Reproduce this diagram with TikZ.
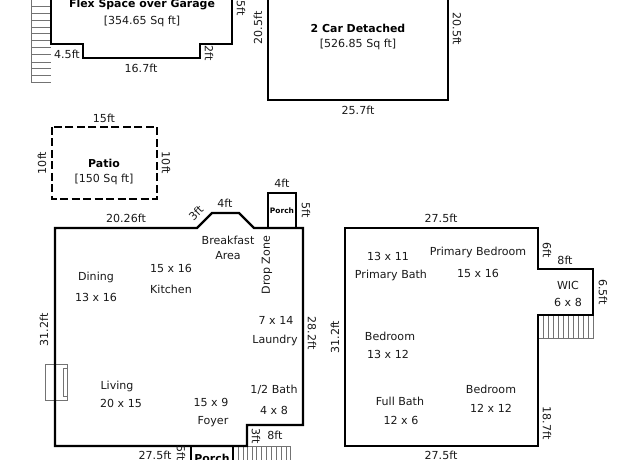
\documentclass[tikz,border=0pt]{standalone}
\usepackage{fontspec}
\setmainfont{DejaVu Sans}
\usetikzlibrary{positioning}
\tikzset{>=latex}
\tikzset{
  wall/.style={draw=black,line width=1.8pt,line join=miter},
  stairline/.style={draw=black!55,line width=0.55pt},
  room/.style={font=\fontsize{8.3}{10}\selectfont,text=black!90,inner sep=0pt},
  dimen/.style={font=\fontsize{8.3}{10}\selectfont,text=black!90,inner sep=0pt},
  title/.style={font=\fontsize{8.2}{10}\selectfont\bfseries,inner sep=0pt},
  porchlabel/.style={font=\fontsize{5.6}{7}\selectfont\bfseries,inner sep=0pt},
}
\begin{document}
\begin{tikzpicture}[x=0.75pt,y=-0.75pt]
  \useasboundingbox (0,0) rectangle (640,460);
  \begin{scope}
    \clip (0,0) rectangle (640,460);
    % stairs
    \draw [stairline] (31,-5) -- (31,82) -- (51,82);
    \foreach \y in {6,13,20,27,33,40,47,54,62,68,75} \draw [stairline] (31,\y) -- (51,\y);
    \foreach \x in {238,243,247,252,256,261,266,271,276,281,286} \draw [stairline] (\x,446) -- (\x,465);
    \draw [stairline] (233,446) -- (290,446) -- (290,465);
    \foreach \x in {543,548,553,558,563,568,573,578,583,588} \draw [stairline] (\x,315) -- (\x,338);
    \draw [stairline] (538,338) -- (593,338) -- (593,315);
    % fireplace
    \draw [stairline,line width=0.7pt] (45,364) rectangle (67,400);
    \draw [stairline,line width=0.7pt] (67,368) -- (63,368) -- (63,396) -- (67,396);
    % flex space
    \draw [wall] (51,-5) -- (51,44) -- (83,44) -- (83,58) -- (200,58) -- (200,44) -- (232,44) -- (232,-5);
    % garage
    \draw [wall] (268,-5) -- (268,100) -- (448,100) -- (448,-5);
    % patio
    \draw [wall,dashed,dash pattern=on 6pt off 2.6pt] (52,127) rectangle (157,199);
    % main house
    \draw [wall] (55,228) -- (197,228) -- (212,213) -- (239,213) -- (254,228) -- (303,228) -- (303,425) -- (247,425) -- (247,446) -- (55,446) -- cycle;
    \draw [wall] (268,228) -- (268,193) -- (296,193) -- (296,228);
    \draw [wall] (191,465) -- (191,446) -- (233,446) -- (233,465);
    % second house
    \draw [wall] (345,228) -- (538,228) -- (538,269) -- (593,269) -- (593,315) -- (538,315) -- (538,446) -- (345,446) -- cycle;
  \end{scope}
  % flex space labels
  \node [title] (flextitle) at (142,5) {Flex Space over Garage};
  \node [room] (flexarea) at (142,21) {[354.65 Sq ft]};
  \node [dimen] (flexa) at (67,54) {4.5ft};
  \node [dimen] (flexb) at (141,68) {16.7ft};
  \node [dimen,rotate=-90] (flexc) at (209,53) {2ft};
  \node [dimen,rotate=-90] (flexd) at (241,8) {5ft};
  % garage labels
  \node [title] (cartitle) at (358,28) {2 Car Detached};
  \node [room] (cararea) at (358,44) {[526.85 Sq ft]};
  \node [dimen,rotate=90] (cara) at (258,28) {20.5ft};
  \node [dimen,rotate=-90] (carb) at (457,29) {20.5ft};
  \node [dimen] (carc) at (358,110) {25.7ft};
  % patio labels
  \node [dimen] (patioa) at (104,118) {15ft};
  \node [dimen,rotate=90] (patiob) at (42,163) {10ft};
  \node [dimen,rotate=-90] (patioc) at (166,163) {10ft};
  \node [title] (patiotitle) at (104,163) {Patio};
  \node [room] (patioarea) at (104,179) {[150 Sq ft]};
  % main house labels
  \node [dimen] (maina) at (126,218) {20.26ft};
  \node [dimen,rotate=45] (mainb) at (196,213) {3ft};
  \node [dimen] (mainc) at (225,203) {4ft};
  \node [dimen] (maind) at (282,183) {4ft};
  \node [dimen,rotate=-90] (maine) at (306,210) {5ft};
  \node [porchlabel] (porchtop) at (282,211) {Porch};
  \node [dimen,rotate=-90] (mainf) at (312,333) {28.2ft};
  \node [dimen,rotate=90] (maing) at (44,330) {31.2ft};
  \node [dimen] (mainh) at (155,455) {27.5ft};
  \node [dimen,rotate=-90] (maini) at (181,453) {5ft};
  \node [title] (porchbottom) at (212,458) {Porch};
  \node [dimen,rotate=-90] (mainj) at (256,436) {3ft};
  \node [dimen] (maink) at (275,435) {8ft};
  \node [room] (breakfast) at (228,240) {Breakfast};
  \node [room] (breakarea) at (228,256) {Area};
  \node [room,rotate=90] (dropzone) at (267,265) {Drop Zone};
  \node [room] (dining) at (96,277) {Dining};
  \node [room] (diningsize) at (96,297) {13 x 16};
  \node [room] (kitchensize) at (171,268) {15 x 16};
  \node [room] (kitchen) at (171,289) {Kitchen};
  \node [room] (laundrysize) at (276,320) {7 x 14};
  \node [room] (laundry) at (275,340) {Laundry};
  \node [room] (living) at (117,386) {Living};
  \node [room] (livingsize) at (121,403) {20 x 15};
  \node [room] (foyersize) at (211,402) {15 x 9};
  \node [room] (foyer) at (213,422) {Foyer};
  \node [room] (halfbath) at (274,390) {1/2 Bath};
  \node [room] (halfsize) at (274,410) {4 x 8};
  % second house labels
  \node [dimen] (seca) at (441,218) {27.5ft};
  \node [dimen,rotate=-90] (secb) at (547,250) {6ft};
  \node [dimen] (secc) at (565,260) {8ft};
  \node [dimen,rotate=-90] (secd) at (603,292) {6.5ft};
  \node [dimen,rotate=-90] (sece) at (547,423) {18.7ft};
  \node [dimen,rotate=90] (secf) at (335,337) {31.2ft};
  \node [dimen] (secg) at (441,455) {27.5ft};
  \node [room] (bathsize) at (388,256) {13 x 11};
  \node [room] (bath) at (391,275) {Primary Bath};
  \node [room] (primary) at (478,252) {Primary Bedroom};
  \node [room] (primarysize) at (478,273) {15 x 16};
  \node [room] (wic) at (568,285) {WIC};
  \node [room] (wicsize) at (568,302) {6 x 8};
  \node [room] (beda) at (390,336) {Bedroom};
  \node [room] (bedasize) at (388,354) {13 x 12};
  \node [room] (fullbath) at (400,401) {Full Bath};
  \node [room] (fullsize) at (401,420) {12 x 6};
  \node [room] (bedb) at (491,389) {Bedroom};
  \node [room] (bedbsize) at (491,408) {12 x 12};
\end{tikzpicture}
\end{document}
